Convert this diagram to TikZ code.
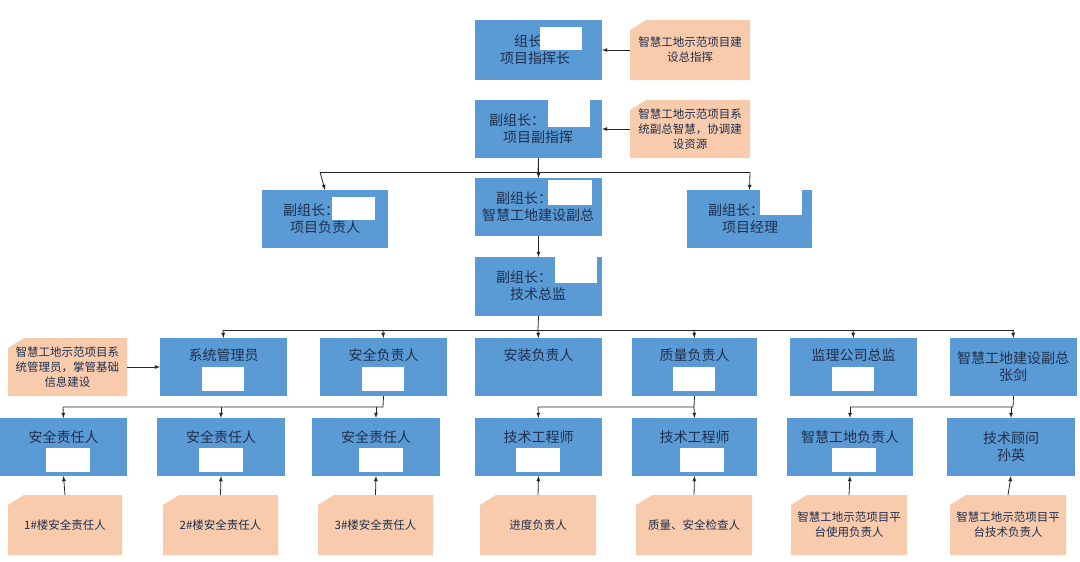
\documentclass[tikz,border=0pt]{standalone}
\usepackage{fontspec}
\setmainfont{Noto Sans CJK SC}
\begin{document}
\begin{tikzpicture}[x=1pt,y=-1pt,
  blue/.style={fill=bx,draw=none,inner sep=0pt,text=tx,font=\fontsize{14}{17}\selectfont,align=center},
  ntext/.style={text=tx,font=\fontsize{11.5}{15}\selectfont,align=center,inner sep=0pt},
  arr/.style={-latex,thick,black!85},
  ln/.style={thick,black!85}]
\definecolor{bx}{HTML}{5B9BD5}
\definecolor{tx}{HTML}{1F2E4C}
\definecolor{pe}{HTML}{F8CBAD}
\useasboundingbox (0,0) rectangle (1080,562);
\newcommand\bbox[5]{\path[fill=bx] (#2,#3) rectangle (#4,#5); \coordinate (#1) at ({(#2+#4)/2},{(#3+#5)/2}); \coordinate (#1-n) at ({(#2+#4)/2},#3); \coordinate (#1-s) at ({(#2+#4)/2},#5); \coordinate (#1-w) at (#2,{(#3+#5)/2}); \coordinate (#1-e) at (#4,{(#3+#5)/2});}
\newcommand\nbox[6]{\path[fill=pe] (#2+16,#3) -- (#4,#3) -- (#4,#5) -- (#2,#5) -- (#2,#3+10) -- cycle; \node[ntext] (#1) at ({(#2+#4)/2},{(#3+#5)/2}) {#6}; \coordinate (#1-n) at ({(#2+#4)/2},#3); \coordinate (#1-w) at (#2,{(#3+#5)/2}); \coordinate (#1-e) at (#4,{(#3+#5)/2});}
\newcommand\whiterect[4]{\path[fill=white] (#1,#2) rectangle (#3,#4);}
% level 1
\bbox{a}{475}{20}{602}{80}
\node[blue,anchor=west] (at) at (500,50) {组长：\\项目指挥长};
\whiterect{540}{27}{582}{50}
\nbox{an}{630}{20}{750}{80}{智慧工地示范项目建\\设总指挥}
% level 2
\bbox{b}{475}{100}{602}{158}
\node[blue] (bt) at (538,129) {副组长：\phantom{某某某}\\项目副指挥};
\whiterect{548}{100}{590}{127}
\nbox{bn}{630}{100}{750}{158}{智慧工地示范项目系\\统副总智慧，协调建\\设资源}
% level 3
\bbox{c}{262}{190}{388}{248}
\node[blue] (ct) at (325,219) {副组长：\phantom{某某}\\项目负责人};
\whiterect{332}{197}{375}{220}
\bbox{d}{475}{178}{602}{236}
\node[blue] (dt) at (538,207) {副组长：\phantom{某某}\\智慧工地建设副总};
\whiterect{548}{180}{592}{205}
\bbox{e}{687}{190}{812}{248}
\node[blue] (et) at (750,219) {副组长：\phantom{某某}\\项目经理};
\whiterect{760}{190}{802}{215}
\bbox{f}{475}{257}{602}{316}
\node[blue] (ft) at (538,286) {副组长：\phantom{某某}\\技术总监};
\whiterect{555}{257}{597}{283}
% row 2
\foreach \n/\xa/\xb/\t in {g1/160/287/系统管理员,g2/320/447/安全负责人,g3/475/602/安装负责人,g4/632/757/质量负责人,g5/790/917/监理公司总监}{
  \bbox{\n}{\xa}{338}{\xb}{396}
  \node[blue] (\n t) at ({(\xa+\xb)/2},355) {\t};
}
\foreach \c in {223,383,694,853}{\whiterect{\c-21}{367}{\c+21}{391}}
\bbox{g6}{950}{338}{1077}{396}
\node[blue] (g6t) at (1013,367) {智慧工地建设副总\\张剑};
\nbox{gn}{8}{338}{127}{396}{智慧工地示范项目系\\统管理员，掌管基础\\信息建设}
% row 3
\foreach \n/\xa/\xb/\t in {h1/0/127/安全责任人,h2/157/285/安全责任人,h3/312/440/安全责任人,h4/475/602/技术工程师,h5/632/757/技术工程师,h6/787/913/智慧工地负责人}{
  \bbox{\n}{\xa}{418}{\xb}{476}
  \node[blue] (\n t) at ({(\xa+\xb)/2},437) {\t};
}
\foreach \c in {68,221,381,538,702,854}{\whiterect{\c-22}{448}{\c+22}{472}}
\bbox{h7}{947}{418}{1075}{476}
\node[blue] (h7t) at (1011,447) {技术顾问\\孙英};
% row 4 notes
\foreach \n/\xa/\xb/\t in {k1/8/122/1\#楼安全责任人,k2/163/278/2\#楼安全责任人,k3/318/433/3\#楼安全责任人,k4/480/596/进度负责人,k5/636/752/质量、安全检查人,k6/791/907/智慧工地示范项目平\\台使用负责人,k7/950/1066/智慧工地示范项目平\\台技术负责人}{
  \nbox{\n}{\xa}{495}{\xb}{555}{\t}
}
% connectors
\draw[arr] (an-w) -- (a-e);
\draw[arr] (bn-w) -- (b-e);
\draw[arr] (gn-e) -- (g1-w);
\draw[ln] (b-s) -- (538,172);
\draw[arr] (320,172) -- (c-n);
\draw[ln] (320,172) -- (750,172);
\draw[arr] (750,172) -- (e-n);
\draw[arr] (b-s) -- (d-n);
\draw[arr] (d-s) -- (f-n);
\draw[ln] (f-s) -- (538,330);
\draw[ln] (223,330) -- (1014,330);
\foreach \n/\c in {g1/223,g2/383,g3/538,g4/694,g5/853,g6/1013}{\draw[arr] (\c,330) -- (\n-n);}
\draw[ln] (g2-s) -- (383,407) -- (63,407);
\foreach \n/\c in {h1/63,h2/221,h3/376}{\draw[arr] (\c,407) -- (\n-n);}
\draw[ln] (g4-s) -- (694,407) -- (538,407);
\foreach \n/\c in {h4/538,h5/694}{\draw[arr] (\c,407) -- (\n-n);}
\draw[ln] (g6-s) -- (1013,407) -- (850,407);
\foreach \n/\c in {h6/850,h7/1011}{\draw[arr] (\c,407) -- (\n-n);}
\foreach \k/\h in {k1/h1,k2/h2,k3/h3,k4/h4,k5/h5,k6/h6,k7/h7}{\draw[arr] (\k-n) -- (\h-s);}
\end{tikzpicture}
\end{document}
